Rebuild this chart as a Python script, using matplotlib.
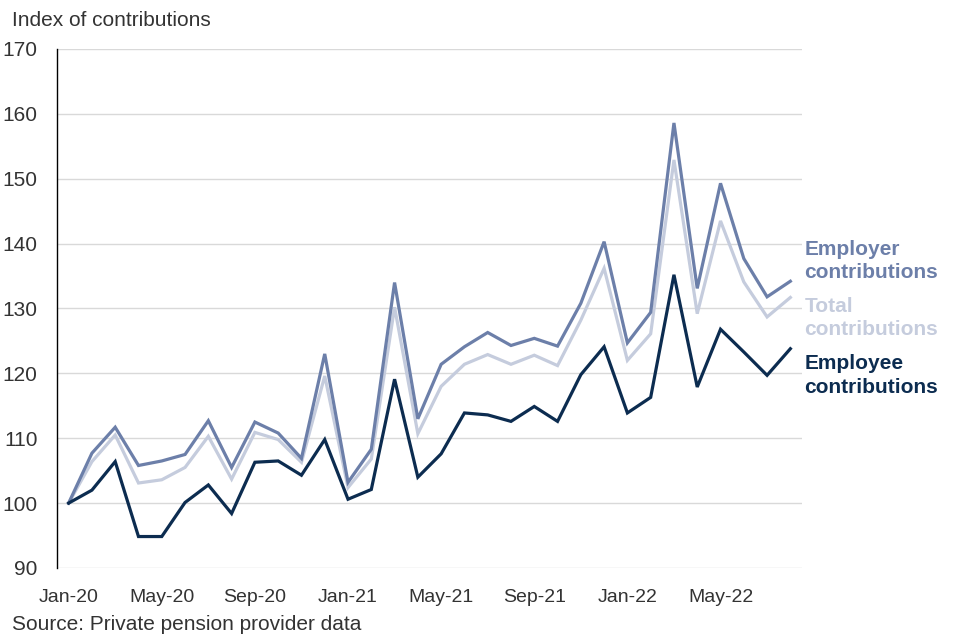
import matplotlib
matplotlib.use('Agg')
from matplotlib import pyplot as plt
import numpy as np

plt.rcParams['font.family'] = ['Liberation Sans', 'DejaVu Sans']

months = ['Jan-20', 'Feb-20', 'Mar-20', 'Apr-20', 'May-20', 'Jun-20', 'Jul-20', 'Aug-20',
          'Sep-20', 'Oct-20', 'Nov-20', 'Dec-20', 'Jan-21', 'Feb-21', 'Mar-21', 'Apr-21',
          'May-21', 'Jun-21', 'Jul-21', 'Aug-21', 'Sep-21', 'Oct-21', 'Nov-21', 'Dec-21',
          'Jan-22', 'Feb-22', 'Mar-22', 'Apr-22', 'May-22', 'Jun-22', 'Jul-22', 'Aug-22']

employer = [100.0, 107.7, 111.7, 105.8, 106.5, 107.5, 112.7, 105.5, 112.5, 110.8, 106.9, 123.0,
            103.2, 108.3, 134.0, 113.0, 121.4, 124.1, 126.3, 124.3, 125.4, 124.2, 130.8, 140.3,
            124.7, 129.4, 158.6, 133.1, 149.3, 137.7, 131.8, 134.2]

total = [100.0, 106.4, 110.5, 103.1, 103.6, 105.5, 110.3, 103.7, 110.9, 109.8, 106.3, 119.6,
         102.4, 106.8, 130.2, 110.7, 118.0, 121.4, 122.9, 121.4, 122.8, 121.2, 128.2, 136.2,
         122.0, 126.1, 152.9, 129.2, 143.5, 134.1, 128.7, 131.7]

employee = [100.0, 102.0, 106.4, 94.85, 94.85, 100.1, 102.8, 98.4, 106.3, 106.5, 104.3, 109.8,
            100.6, 102.1, 119.1, 104.0, 107.6, 113.9, 113.6, 112.6, 114.9, 112.6, 119.8, 124.1,
            113.9, 116.3, 135.2, 117.9, 126.8, 123.3, 119.7, 123.8]

yticks = [90, 100, 110, 120, 130, 140, 150, 160, 170]

cEmployer = '#6C7FA9'
cTotal = '#C5CCDD'
cEmployee = '#0C2C50'
cText = '#333333'

x = np.arange(len(months))

fig = plt.figure(figsize=(9.6, 6.4), dpi=100)
ax = fig.add_axes([57/960, 1-568/640, (802-57)/960, (568-49)/640])

ax.plot(x, total, color=cTotal, lw=2.3, solid_joinstyle='miter')
ax.plot(x, employer, color=cEmployer, lw=2.3, solid_joinstyle='miter')
ax.plot(x, employee, color=cEmployee, lw=2.3, solid_joinstyle='miter')

ax.set_xlim(-0.5, len(months) - 0.5)
ax.set_ylim(90, 170)
ax.set_yticks(yticks)
ax.set_xticks(x[::4])
ax.set_xticklabels(months[::4])
ax.grid(axis='y', color='#D9D9D9', lw=1)
ax.set_axisbelow(True)
for s in ['top', 'right', 'bottom']:
  ax.spines[s].set_visible(False)
ax.spines['left'].set_color('black')
ax.spines['left'].set_linewidth(1)
ax.tick_params(length=0, colors=cText)
ax.tick_params(axis='x', labelsize=14, pad=15)
ax.tick_params(axis='y', labelsize=15, pad=14)

# end labels
lx = len(months) - 0.4
ax.text(lx, 137.3, 'Employer\ncontributions', color=cEmployer, fontsize=15,
        fontweight='bold', va='center', ha='left', linespacing=1.3)
ax.text(lx, 128.5, 'Total\ncontributions', color=cTotal, fontsize=15,
        fontweight='bold', va='center', ha='left', linespacing=1.3)
ax.text(lx, 119.7, 'Employee\ncontributions', color=cEmployee, fontsize=15,
        fontweight='bold', va='center', ha='left', linespacing=1.3)

fig.text(12/960, 1-21/640, 'Index of contributions', color=cText, fontsize=15, va='center')
fig.text(12/960, 1-624/640, 'Source: Private pension provider data', color=cText, fontsize=15,
         va='center')

fig.savefig('out.png', dpi=100)
